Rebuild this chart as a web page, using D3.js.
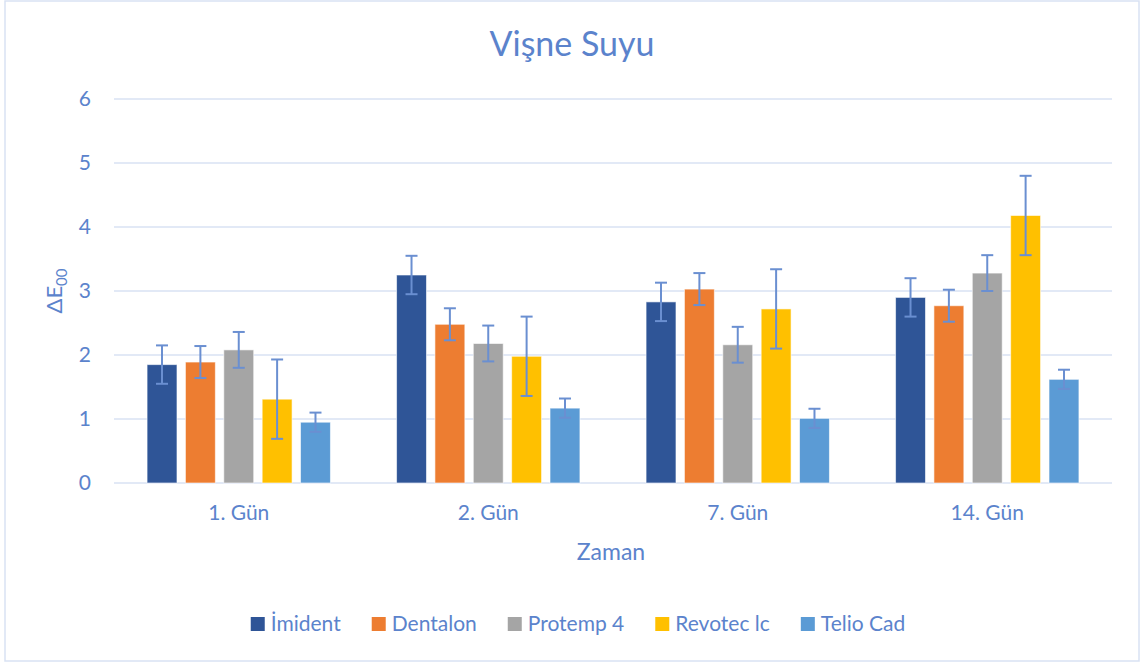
<!DOCTYPE html>
<html lang="tr">
<head>
<meta charset="UTF-8">
<title>Vişne Suyu</title>
<style>
  body { margin: 0; background: #fff; }
  svg text { font-family: Lato, "Noto Sans", sans-serif; fill: #5B83CC; }
</style>
</head>
<body>
<svg id="chart"></svg>
<script src="https://d3js.org/d3.v7.min.js"></script>
<script>
// data
const days = ["1. Gün", "2. Gün", "7. Gün", "14. Gün"];
const materials = ["İmident", "Dentalon", "Protemp 4", "Revotec lc", "Telio Cad"];
const colors = ["#2F5597", "#ED7D31", "#A5A5A5", "#FFC000", "#5B9BD5"];

// mean ΔE00, one array per material (in order of days)
const imident   = [1.85, 3.25, 2.83, 2.90];
const dentalon  = [1.89, 2.48, 3.03, 2.77];
const protemp   = [2.08, 2.18, 2.16, 3.28];
const revotec   = [1.31, 1.98, 2.72, 4.18];
const telio     = [0.95, 1.17, 1.01, 1.62];

// error bar half-widths
const imidentErr  = [0.30, 0.30, 0.30, 0.30];
const dentalonErr = [0.25, 0.25, 0.25, 0.25];
const protempErr  = [0.28, 0.28, 0.28, 0.28];
const revotecErr  = [0.62, 0.62, 0.62, 0.62];
const telioErr    = [0.15, 0.15, 0.15, 0.15];

const yTicks = [0, 1, 2, 3, 4, 5, 6];

const means = [imident, dentalon, protemp, revotec, telio];
const errs = [imidentErr, dentalonErr, protempErr, revotecErr, telioErr];

const width = 1140, height = 664;
const plot = { left: 114, right: 1112, top: 99, bottom: 483 };

const svg = d3.select("#chart").attr("width", width).attr("height", height);

// outer chart border
svg.append("rect")
  .attr("x", 5).attr("y", 1)
  .attr("width", 1134).attr("height", 660)
  .attr("fill", "#fff")
  .attr("stroke", "#D9E2F3")
  .attr("stroke-width", 1.5);

const x0 = d3.scaleBand().domain(days).range([plot.left, plot.right]).padding(0);
const groupW = x0.bandwidth() * 0.735;
const x1 = d3.scaleBand().domain(materials)
  .range([(x0.bandwidth() - groupW) / 2, (x0.bandwidth() + groupW) / 2])
  .paddingInner(0.22);
const y = d3.scaleLinear().domain([0, 6]).range([plot.bottom, plot.top]);

// gridlines
svg.append("g")
  .selectAll("line")
  .data(yTicks)
  .join("line")
    .attr("x1", plot.left).attr("x2", plot.right)
    .attr("y1", d => y(d)).attr("y2", d => y(d))
    .attr("stroke", "#D9E2F3")
    .attr("stroke-width", 1.5);

// y axis labels
const yAxis = svg.append("g")
  .attr("transform", `translate(${plot.left - 23},0)`)
  .call(d3.axisLeft(y).tickValues(yTicks).tickFormat(d3.format("d")).tickSize(0).tickPadding(0));
yAxis.select(".domain").remove();
yAxis.selectAll("text")
  .attr("font-size", 21)
  .style("font-family", "Lato, sans-serif")
  .attr("fill", "#5B83CC");

// x axis labels
const xAxis = svg.append("g")
  .attr("transform", `translate(0,${plot.bottom})`)
  .call(d3.axisBottom(x0).tickSize(0).tickPadding(22));
xAxis.select(".domain").remove();
xAxis.selectAll("text")
  .attr("font-size", 21)
  .style("font-family", "Lato, sans-serif")
  .attr("fill", "#5B83CC");

// bars
const rows = [];
days.forEach((day, i) => {
  materials.forEach((m, j) => {
    rows.push({ day, m, j, v: means[j][i], e: errs[j][i] });
  });
});

const groups = svg.append("g").selectAll("g")
  .data(rows)
  .join("g")
  .attr("transform", d => `translate(${x0(d.day)},0)`);

groups.append("rect")
  .attr("x", d => x1(d.m))
  .attr("y", d => y(d.v))
  .attr("width", x1.bandwidth())
  .attr("height", d => y(0) - y(d.v))
  .attr("fill", d => colors[d.j])
  .attr("stroke", "#fff")
  .attr("stroke-opacity", 0.6)
  .attr("stroke-width", 1);

// error bars
const errColor = "#6A8FD1";
groups.append("line")
  .attr("x1", d => x1(d.m) + x1.bandwidth() / 2)
  .attr("x2", d => x1(d.m) + x1.bandwidth() / 2)
  .attr("y1", d => y(d.v + d.e))
  .attr("y2", d => y(d.v - d.e))
  .attr("stroke", errColor).attr("stroke-width", 2);
[1, -1].forEach(s => {
  groups.append("line")
    .attr("x1", d => x1(d.m) + x1.bandwidth() / 2 - 6)
    .attr("x2", d => x1(d.m) + x1.bandwidth() / 2 + 6)
    .attr("y1", d => y(d.v + s * d.e))
    .attr("y2", d => y(d.v + s * d.e))
    .attr("stroke", errColor).attr("stroke-width", 2);
});

// title
svg.append("text")
  .attr("x", 572).attr("y", 56)
  .attr("text-anchor", "middle")
  .attr("font-size", 34)
  .text("Vişne Suyu");

// axis titles
svg.append("text")
  .attr("x", 611).attr("y", 560)
  .attr("text-anchor", "middle")
  .attr("font-size", 23)
  .text("Zaman");

const yt = svg.append("text")
  .attr("transform", "translate(62,291) rotate(-90)")
  .attr("text-anchor", "middle")
  .attr("font-size", 22);
yt.append("tspan").text("ΔE");
yt.append("tspan").attr("font-size", 15).attr("dy", 5).text("00");

// legend
const legend = svg.append("g");
let lx = 0;
materials.forEach((m, j) => {
  const item = legend.append("g").attr("transform", `translate(${lx},0)`);
  item.append("rect")
    .attr("x", 0).attr("y", -14)
    .attr("width", 14).attr("height", 14)
    .attr("fill", colors[j]);
  const t = item.append("text")
    .attr("x", 20).attr("y", 0)
    .attr("font-size", 21)
    .text(m);
  lx += 20 + t.node().getComputedTextLength() + 31;
});
lx -= 31;
legend.attr("transform", `translate(${578 - lx / 2},631)`);
</script>
</body>
</html>
